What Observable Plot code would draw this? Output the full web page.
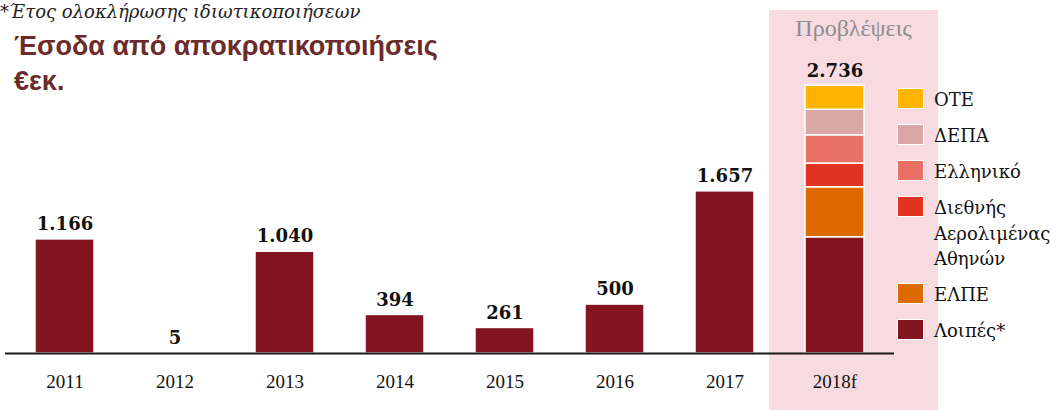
<!DOCTYPE html>
<html>
<head>
<meta charset="utf-8">
<script src="https://cdn.jsdelivr.net/npm/d3@7"></script>
<script src="https://cdn.jsdelivr.net/npm/@observablehq/plot@0.6"></script>
<style>
  html, body { margin: 0; padding: 0; background: #fff; }
  #wrap { position: relative; width: 1061px; height: 410px; overflow: hidden; }
  #band { position: absolute; left: 769px; top: 10px; width: 169px; height: 400px; background: #f8dbe0; }
  #forecast { position: absolute; left: 769px; top: 16px; width: 169px; text-align: center;
    font: 24px/24px "Liberation Serif", serif; color: #8d8d8d; }
  #note { position: absolute; left: 0; top: 2px; font: italic 18px/20px "DejaVu Serif", serif; color: #222; white-space: nowrap; }
  #title { position: absolute; left: 14px; top: 29px; font: bold 27px/35px "Liberation Sans", Arial, sans-serif; color: #6b2b2b; }
  #chart { position: absolute; left: 0; top: 0; }
  #legend { position: absolute; left: 897px; top: 87px; font: 18px/25.5px "DejaVu Serif", serif; color: #111; }
  .item { display: flex; align-items: flex-start; margin-bottom: 10.5px; }
  .sw { width: 25px; height: 19px; border: 1.5px solid #fff; margin-top: 1px; margin-right: 10px; flex: none; }
</style>
</head>
<body>
<div id="wrap">
  <div id="band"></div>
  <div id="forecast">Προβλέψεις</div>
  <div id="note">*Έτος ολοκλήρωσης ιδιωτικοποιήσεων</div>
  <div id="title">Έσοδα από αποκρατικοποιήσεις<br>€εκ.</div>
  <div id="chart"></div>
  <div id="legend"></div>
</div>
<script>
// Data
const years = ["2011", "2012", "2013", "2014", "2015", "2016", "2017"];
const yearValues = [1166, 5, 1040, 394, 261, 500, 1657];
const forecastYear = "2018f";
// top-to-bottom order, as in the legend
const segments = ["ΟΤΕ", "ΔΕΠΑ", "Ελληνικό", "Διεθνής Αερολιμένας Αθηνών", "ΕΛΠΕ", "Λοιπές*"];
const segmentValues = [245, 261, 289, 242, 511, 1188];
const segmentColors = ["#ffb500", "#dba6a6", "#e87065", "#e03322", "#dc6a00", "#821520"];

const other = segments[segments.length - 1];
const rows = [];
years.forEach((y, i) => rows.push({year: y, series: other, value: yearValues[i]}));
// bottom-to-top for stacking
for (let i = segments.length - 1; i >= 0; i--) rows.push({year: forecastYear, series: segments[i], value: segmentValues[i]});

const totals = [...years.map((y, i) => ({year: y, total: yearValues[i]})),
  {year: forecastYear, total: d3.sum(segmentValues)}];

const fmt = d => d3.format(",")(d).replace(/,/g, ".");

const chart = Plot.plot({
  width: 1061,
  height: 410,
  marginLeft: 5,
  marginRight: 167,
  marginTop: 79,
  marginBottom: 57,
  style: {background: "transparent", fontFamily: "Liberation Serif, serif", color: "#111"},
  x: {domain: [...years, forecastYear], paddingInner: 0.467, paddingOuter: 0.257, axis: null},
  y: {domain: [0, 2800], axis: null},
  color: {domain: segments, range: segmentColors},
  marks: [
    Plot.barY(rows, {x: "year", y: "value", fill: "series", stroke: "#fff", strokeWidth: 1.5, order: null}),
    Plot.ruleY([0], {stroke: "#1a1a1a", strokeWidth: 2}),
    Plot.text(totals, {x: "year", y: "total", text: d => fmt(d.total), dy: -15,
      fontFamily: "DejaVu Serif, serif", fontWeight: "bold", fontSize: 18, fill: "#111"}),
    Plot.axisX({tickSize: 0, tickPadding: 21, fontSize: 19, label: null, fill: "#111"})
  ]
});
document.getElementById("chart").appendChild(chart);

const legend = document.getElementById("legend");
segments.forEach((s, i) => {
  const it = document.createElement("div");
  it.className = "item";
  const sw = document.createElement("div");
  sw.className = "sw";
  sw.style.background = segmentColors[i];
  const lab = document.createElement("div");
  lab.innerHTML = s.split(" ").join("<br>");
  it.appendChild(sw);
  it.appendChild(lab);
  legend.appendChild(it);
});
</script>
</body>
</html>
